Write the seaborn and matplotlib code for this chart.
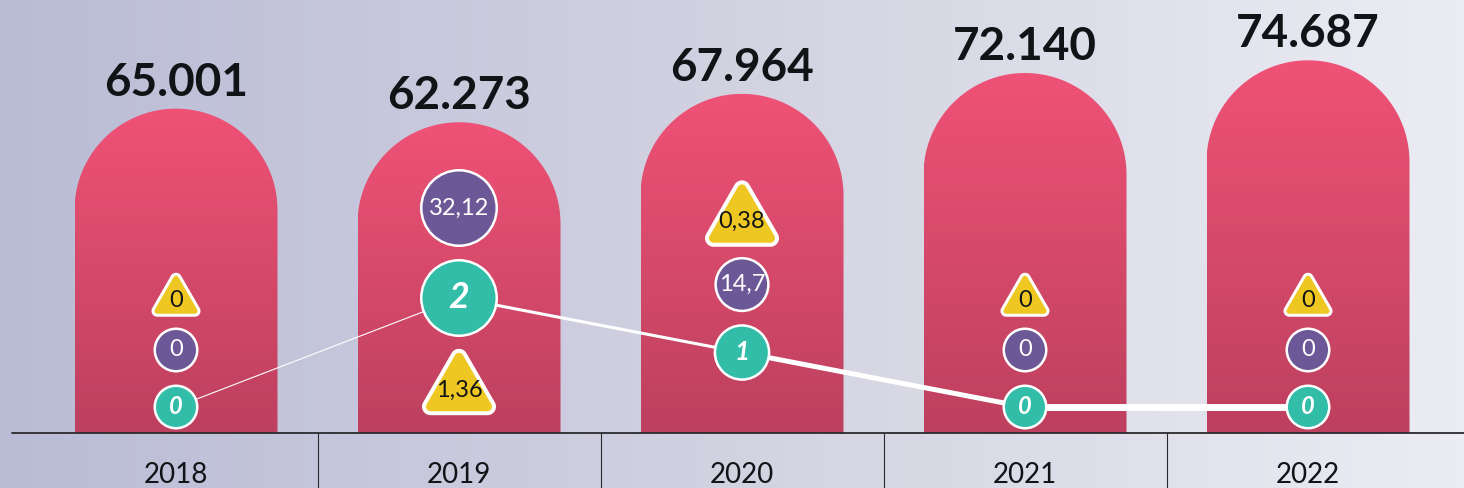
import numpy as np
import pandas as pd
import matplotlib.pyplot as plt
import seaborn as sns
from matplotlib.path import Path
from matplotlib.patches import PathPatch
from matplotlib.colors import LinearSegmentedColormap
from matplotlib.collections import LineCollection

# datos
years = ["2018", "2019", "2020", "2021", "2022"]
totals = [65001, 62273, 67964, 72140, 74687]
teal_vals = [0, 2, 1, 0, 0]
purple_vals = [0, 32.12, 14.7, 0, 0]
yellow_vals = [0, 1.36, 0.38, 0, 0]

# colores
PINK_TOP, PINK_BOT = "#ef5276", "#bd405e"
TEAL, PURPLE, YELLOW = "#31bda8", "#6c5897", "#efc723"
DARK = "#111416"

sns.set_theme(style="white")
plt.rcParams["font.family"] = ["Lato", "DejaVu Sans"]

# escala en pixeles (figura 1464x488 a 100 dpi)
PX_X = 283.0            # px por categoria
K = 0.00499             # px por unidad del eje y
xlim = (-176 / PX_X, (1464 - 176) / PX_X)
ylim = (-55 / K, 433 / K)
PT = 0.72               # pt por px


def py(px):
    return px / K


fig = plt.figure(figsize=(14.64, 4.88), dpi=100)
ax = fig.add_axes([0, 0, 1, 1])

# fondo degradado
bg = LinearSegmentedColormap.from_list("bg", ["#babcd6", "#d2d2e1", "#ececf4"])
ax.imshow(np.linspace(0, 1, 256).reshape(1, -1), extent=[*xlim, *ylim],
          cmap=bg, aspect="auto", zorder=0)

# barras
df = pd.DataFrame({"year": years, "total": totals})
sns.barplot(data=df, x="year", y="total", width=203 / PX_X, color=PINK_TOP, ax=ax)

bar_cmap = LinearSegmentedColormap.from_list("bar", [PINK_BOT, PINK_TOP])
grad = np.linspace(0, 1, 256).reshape(-1, 1)
for p in list(ax.patches):
    x0, w, h = p.get_x(), p.get_width(), p.get_height()
    p.remove()
    rx = w / 2
    ry = rx * PX_X / K
    t = np.linspace(np.pi, 0, 80)
    verts = [(x0, 0)] + list(zip(x0 + rx + rx * np.cos(t), h - ry + ry * np.sin(t))) + [(x0 + w, 0), (x0, 0)]
    clip = PathPatch(Path(verts, closed=True), transform=ax.transData, facecolor="none", edgecolor="none")
    im = ax.imshow(grad, extent=[x0, x0 + w, 0, h], origin="lower", cmap=bar_cmap,
                   aspect="auto", zorder=2)
    im.set_clip_path(clip)

    ax.text(x0 + rx, h + py(13), f"{int(round(h)):,}".replace(",", "."), ha="center",
            va="baseline", fontsize=33, fontweight="bold", color=DARK, zorder=6)

# posiciones de los marcadores (px sobre la base)
n = len(years)
xs = np.arange(n)
GAP = 12
tv = np.array(teal_vals, float)
pv = np.array(purple_vals, float)
yv = np.array(yellow_vals, float)

r_teal = 22.5 + 16.5 * (tv / tv.max()) ** 1.5
r_purp = 22.5 + 16.5 * (pv / pv.max()) ** 1.5
y_teal = 26 + 54.5 * tv
y_purp = y_teal + r_teal + GAP + r_purp

tri_w = np.where(yv > 0, 74, 49)
tri_h = tri_w * 0.87
bar_top = np.array(totals) * K
tri_bottom = y_purp + r_purp + GAP
fits = tri_bottom + tri_h < bar_top - 50
tri_bottom = np.where(fits, tri_bottom, y_teal - r_teal - GAP - tri_h)
y_tri = tri_bottom + tri_h * 0.36

# linea blanca de progresion
pts = np.column_stack([xs, py(y_teal)])
segs = [pts[i:i + 2] for i in range(n - 1)]
ax.add_collection(LineCollection(segs, colors="white", linewidths=[0.8, 2.2, 3.6, 5.0],
                                 capstyle="round", zorder=3))

# circulos
lw_c = 2.5
sns.scatterplot(x=xs, y=py(y_teal), s=((2 * r_teal - lw_c) * PT) ** 2, color=TEAL,
                edgecolor="white", linewidth=lw_c * PT, ax=ax, zorder=4, legend=False)
sns.scatterplot(x=xs, y=py(y_purp), s=((2 * r_purp - lw_c) * PT) ** 2, color=PURPLE,
                edgecolor="white", linewidth=lw_c * PT, ax=ax, zorder=4, legend=False)

# triangulo con esquinas redondeadas
R0, RR = 1.0, 0.2
tri = []
for ang, a0 in zip([90, 210, 330], [30, 150, 270]):
    vx, vy = R0 * np.cos(np.radians(ang)), R0 * np.sin(np.radians(ang))
    for a in np.radians(np.linspace(a0, a0 + 120, 12)):
        tri.append((vx + RR * np.cos(a), vy + RR * np.sin(a)))
tri.append(tri[0])
tri = np.array(tri)
w_ratio = (tri[:, 0].max() - tri[:, 0].min()) / (2 * np.abs(tri).max())

lw_t = np.where(yv > 0, 4.0, 3.0)
tri_size = (tri_w - lw_t) / w_ratio * PT
sns.scatterplot(x=xs, y=py(y_tri), s=tri_size ** 2, marker=tri, color=YELLOW,
                edgecolor="white", linewidth=lw_t * PT, ax=ax, zorder=4, legend=False)

for i in range(n):
    ax.text(xs[i], py(y_teal[i]), f"{teal_vals[i]}", ha="center", va="center",
            fontsize=max(17, 0.66 * r_teal[i]), fontweight="bold", fontstyle="italic",
            color="white", zorder=5)
    ax.text(xs[i], py(y_purp[i]), f"{purple_vals[i]:g}".replace(".", ","), ha="center",
            va="center", fontsize=17, color="white", zorder=5)
    ax.text(xs[i], py(y_tri[i]), f"{yellow_vals[i]:g}".replace(".", ","), ha="center",
            va="center", fontsize=17, color=DARK, zorder=5)
    ax.text(xs[i], py(-50), years[i], ha="center", va="baseline", fontsize=20,
            color=DARK, zorder=5)

# eje y separadores
ax.axhline(0, xmin=12 / 1464, xmax=1, color="#2a2a2e", lw=1.3, zorder=3)
ax.vlines(xs[:-1] + 0.5, ylim[0], 0, color="#2a2a2e", lw=0.8, zorder=3)

ax.set_xlim(xlim)
ax.set_ylim(ylim)
ax.axis("off")

fig.savefig("out.png", dpi=100)
